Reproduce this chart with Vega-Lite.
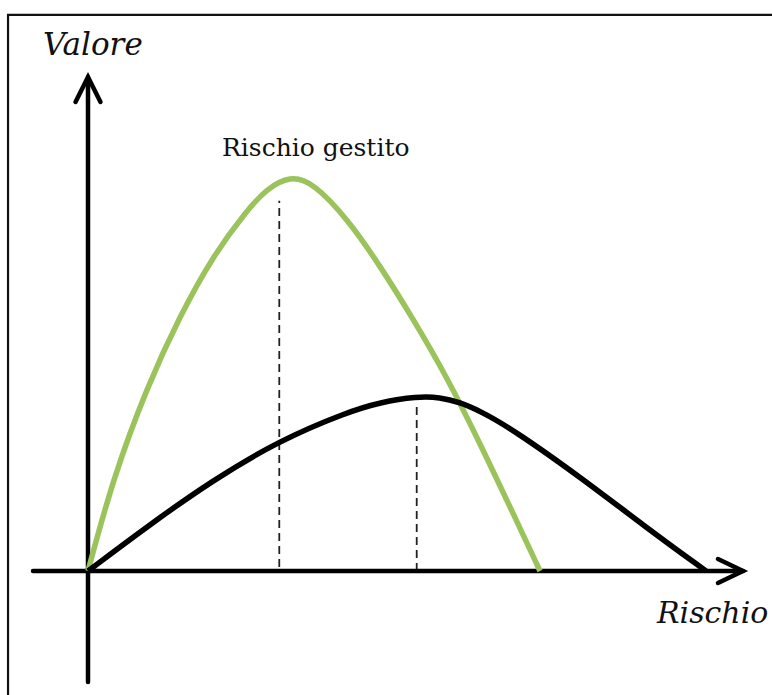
{
  "$schema": "https://vega.github.io/schema/vega-lite/v6.json",
  "width": 772,
  "height": 695,
  "autosize": {"type": "fit", "contains": "padding"},
  "padding": 0,
  "background": "white",
  "config": {"view": {"stroke": null}},
  "datasets": {
    "curves": [
      {"curve": "gestito", "rischio": 0, "valore": 0},
      {"curve": "gestito", "rischio": 4.05, "valore": 23.5},
      {"curve": "gestito", "rischio": 9.55, "valore": 46.7},
      {"curve": "gestito", "rischio": 14.89, "valore": 64.8},
      {"curve": "gestito", "rischio": 20.23, "valore": 80.0},
      {"curve": "gestito", "rischio": 25.73, "valore": 91.6},
      {"curve": "gestito", "rischio": 28.96, "valore": 97.0},
      {"curve": "gestito", "rischio": 32.69, "valore": 100.3},
      {"curve": "gestito", "rischio": 36.41, "valore": 98.6},
      {"curve": "gestito", "rischio": 41.91, "valore": 89.5},
      {"curve": "gestito", "rischio": 47.25, "valore": 77.5},
      {"curve": "gestito", "rischio": 52.59, "valore": 64.0},
      {"curve": "gestito", "rischio": 58.09, "valore": 49.2},
      {"curve": "gestito", "rischio": 63.43, "valore": 32.4},
      {"curve": "gestito", "rischio": 68.77, "valore": 14.7},
      {"curve": "gestito", "rischio": 73.14, "valore": 0},
      {"curve": "non gestito", "rischio": 0, "valore": 0},
      {"curve": "non gestito", "rischio": 9.55, "valore": 11.3},
      {"curve": "non gestito", "rischio": 20.23, "valore": 23.1},
      {"curve": "non gestito", "rischio": 31.07, "valore": 33.2},
      {"curve": "non gestito", "rischio": 41.91, "valore": 40.3},
      {"curve": "non gestito", "rischio": 47.25, "valore": 42.8},
      {"curve": "non gestito", "rischio": 53.24, "valore": 44.3},
      {"curve": "non gestito", "rischio": 56.96, "valore": 44.1},
      {"curve": "non gestito", "rischio": 60.19, "valore": 42.8},
      {"curve": "non gestito", "rischio": 63.43, "valore": 40.6},
      {"curve": "non gestito", "rischio": 68.77, "valore": 35.9},
      {"curve": "non gestito", "rischio": 79.61, "valore": 23.9},
      {"curve": "non gestito", "rischio": 90.45, "valore": 10.9},
      {"curve": "non gestito", "rischio": 100, "valore": 0}
    ],
    "guides": [
      {"rischio": 30.95, "da": 1, "a": 94},
      {"rischio": 53.19, "da": 0, "a": 41.6}
    ],
    "axes": [
      {"id": "asse x", "i": 0, "rischio": -8.9, "valore": 0},
      {"id": "asse x", "i": 1, "rischio": 105.99, "valore": 0},
      {"id": "asse y", "i": 0, "rischio": 0, "valore": -28.17},
      {"id": "asse y", "i": 1, "rischio": 0, "valore": 125.38},
      {"id": "freccia x", "i": 0, "rischio": 101.94, "valore": 3.05},
      {"id": "freccia x", "i": 1, "rischio": 105.99, "valore": 0},
      {"id": "freccia x", "i": 2, "rischio": 101.94, "valore": -3.05},
      {"id": "freccia y", "i": 0, "rischio": -2.02, "valore": 119.04},
      {"id": "freccia y", "i": 1, "rischio": 0, "valore": 125.38},
      {"id": "freccia y", "i": 2, "rischio": 2.02, "valore": 119.04}
    ],
    "frame": [
      {"i": 0, "rischio": 115, "valore": 141.12},
      {"i": 1, "rischio": -12.94, "valore": 141.12},
      {"i": 2, "rischio": -12.94, "valore": -40}
    ],
    "italic": [
      {"testo": "Valore", "rischio": -7.28, "valore": 130.96, "dim": 31},
      {"testo": "Rischio", "rischio": 92.07, "valore": -13.2, "dim": 30}
    ],
    "normal": [
      {"testo": "Rischio gestito", "rischio": 21.68, "valore": 105.33, "dim": 25}
    ]
  },
  "encoding": {
    "x": {"field": "rischio", "type": "quantitative", "scale": {"domain": [-14.24, 110.68], "nice": false, "zero": false}, "axis": null},
    "y": {"field": "valore", "type": "quantitative", "scale": {"domain": [-31.47, 144.92], "nice": false, "zero": false}, "axis": null}
  },
  "layer": [
    {
      "data": {"name": "frame"},
      "mark": {"type": "line", "color": "#111111", "strokeWidth": 2.2, "clip": true},
      "encoding": {"order": {"field": "i", "type": "quantitative"}}
    },
    {
      "data": {"name": "guides"},
      "mark": {"type": "rule", "color": "#222222", "strokeWidth": 1.8, "strokeDash": [8, 5]},
      "encoding": {
        "y": {"field": "da", "type": "quantitative"},
        "y2": {"field": "a"}
      }
    },
    {
      "data": {"name": "axes"},
      "mark": {"type": "line", "color": "black", "strokeWidth": 4.5, "strokeCap": "round", "strokeJoin": "miter"},
      "encoding": {
        "detail": {"field": "id", "type": "nominal"},
        "order": {"field": "i", "type": "quantitative"}
      }
    },
    {
      "data": {"name": "curves"},
      "mark": {"type": "line", "strokeWidth": 5.5, "interpolate": "basis"},
      "encoding": {
        "color": {"field": "curve", "type": "nominal", "scale": {"domain": ["gestito", "non gestito"], "range": ["#9BC35B", "#000000"]}, "legend": null},
        "order": {"field": "rischio", "type": "quantitative"}
      }
    },
    {
      "data": {"name": "italic"},
      "mark": {"type": "text", "font": "DejaVu Serif", "fontStyle": "italic", "align": "left", "baseline": "alphabetic", "color": "#111111"},
      "encoding": {
        "text": {"field": "testo", "type": "nominal"},
        "size": {"field": "dim", "type": "quantitative", "scale": null}
      }
    },
    {
      "data": {"name": "normal"},
      "mark": {"type": "text", "font": "DejaVu Serif", "align": "left", "baseline": "alphabetic", "color": "#111111"},
      "encoding": {
        "text": {"field": "testo", "type": "nominal"},
        "size": {"field": "dim", "type": "quantitative", "scale": null}
      }
    }
  ]
}
